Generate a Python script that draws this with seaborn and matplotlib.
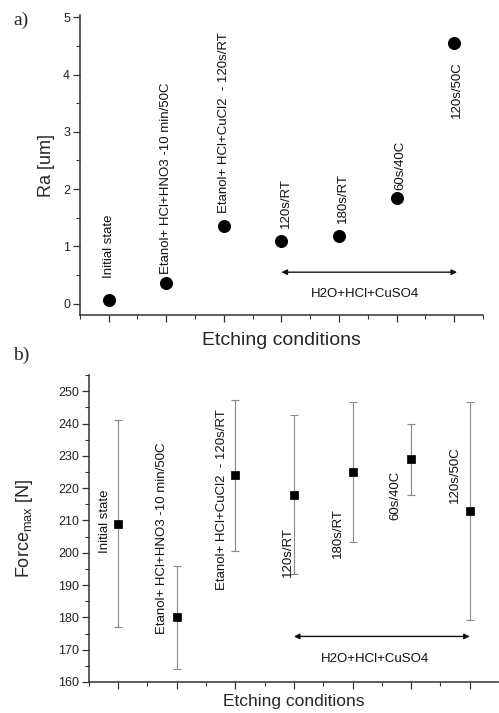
import matplotlib
matplotlib.use("Agg")
import matplotlib.pyplot as plt
from matplotlib.ticker import MultipleLocator, NullFormatter
import seaborn as sns
import pandas as pd
import numpy as np

# ---- data ----
conditions = ["Initial state", "Etanol+ HCl+HNO3 -10 min/50C",
              "Etanol+ HCl+CuCl2  - 120s/RT", "120s/RT", "180s/RT",
              "60s/40C", "120s/50C"]
ra_values = [0.07, 0.36, 1.36, 1.10, 1.18, 1.85, 4.55]
force_values = [209, 180, 224, 218, 225, 229, 213]
force_err = [32, 16, 23.4, 24.6, 21.8, 11, 33.8]
group_label = "H2O+HCl+CuSO4"

# label anchor (bottom of rotated text) in data units
ra_label_y = [0.45, 0.52, 1.58, 1.33, 1.40, 1.98, 3.25]
force_label_y = [200, 174.8, 188.5, 192.5, 198.5, 210, 215.5]
ra_label_dx = [0, 0, 0, 0.07, 0.07, 0.07, 0.05]
force_label_dx = [-0.23, -0.25, -0.23, -0.1, -0.25, -0.27, -0.25]

sns.set_theme(style="white")
plt.rcParams['font.family'] = ['Liberation Sans', 'DejaVu Sans']
plt.rcParams['mathtext.fontset'] = 'custom'
plt.rcParams['mathtext.rm'] = 'Liberation Sans'
plt.rcParams['mathtext.it'] = 'Liberation Sans:italic'

fig = plt.figure(figsize=(4.99, 7.13), dpi=100)
ax1 = fig.add_axes([0.160, 0.558, 0.808, 0.421])
ax2 = fig.add_axes([0.178, 0.0435, 0.822, 0.4305])

df = pd.DataFrame({"pos": np.arange(len(conditions)), "cond": conditions,
                   "ra": ra_values, "force": force_values, "err": force_err})

axis_col = "#333333"

def style(ax):
    for s in ["top", "right"]:
        ax.spines[s].set_visible(False)
    for s in ["left", "bottom"]:
        ax.spines[s].set_color(axis_col)
        ax.spines[s].set_linewidth(1.1)
    ax.tick_params(which="major", direction="out", length=5, width=0.9,
                   color=axis_col, labelsize=9, labelcolor="#222222",
                   left=True, bottom=True, pad=2)
    ax.tick_params(which="minor", direction="out", length=3, width=0.8,
                   color=axis_col, left=True, bottom=True)
    ax.set_xlim(-0.5, 6.5)
    ax.xaxis.set_major_locator(MultipleLocator(1))
    ax.xaxis.set_minor_locator(MultipleLocator(0.5))
    ax.xaxis.set_major_formatter(NullFormatter())

# ---- panel a ----
sns.scatterplot(data=df, x="pos", y="ra", ax=ax1, color="black", s=75,
                edgecolor="black", zorder=3, legend=False)
style(ax1)
ax1.set_ylim(-0.2, 5.04)
ax1.yaxis.set_major_locator(MultipleLocator(1))
ax1.yaxis.set_minor_locator(MultipleLocator(0.5))
ax1.set_xlabel("Etching conditions", fontsize=14, va="center")
ax1.xaxis.set_label_coords(0.5, -0.083)
ax1.set_ylabel("Ra [um]", fontsize=13, va="center")
ax1.yaxis.set_label_coords(-0.082, 0.5)
for i, (c, y) in enumerate(zip(conditions, ra_label_y)):
    ax1.text(i + ra_label_dx[i], y, c, rotation=90, ha="center", va="bottom",
             fontsize=9.5, color="#111111")
ax1.annotate("", xy=(6.05, 0.55), xytext=(3.0, 0.55),
             arrowprops=dict(arrowstyle="<|-|>", color="#111111", lw=1.0,
                             mutation_scale=8, shrinkA=0, shrinkB=0))
ax1.text(4.45, 0.17, group_label, ha="center", va="center", fontsize=9.5,
         color="#111111")

# ---- panel b ----
ax2.errorbar(df["pos"], df["force"], yerr=df["err"], fmt="none",
             ecolor="#888888", elinewidth=0.8, capsize=3, capthick=0.8,
             zorder=2)
sns.scatterplot(data=df, x="pos", y="force", ax=ax2, color="black", s=40,
                marker="s", edgecolor="black", zorder=3, legend=False)
style(ax2)
ax2.set_ylim(160, 255)
ax2.yaxis.set_major_locator(MultipleLocator(10))
ax2.yaxis.set_minor_locator(MultipleLocator(5))
ax2.set_xlabel("Etching conditions", fontsize=12.5, va="center")
ax2.xaxis.set_label_coords(0.5, -0.064)
ax2.set_ylabel("Force$_{\\mathrm{max}}$ [N]", fontsize=13, va="center")
ax2.yaxis.set_label_coords(-0.156, 0.5)
for i, (c, y) in enumerate(zip(conditions, force_label_y)):
    ax2.text(i + force_label_dx[i], y, c, rotation=90, ha="center",
             va="bottom", fontsize=9.5, color="#111111")
ax2.annotate("", xy=(6.0, 174.1), xytext=(3.0, 174.1),
             arrowprops=dict(arrowstyle="<|-|>", color="#111111", lw=1.0,
                             mutation_scale=8, shrinkA=0, shrinkB=0))
ax2.text(4.38, 167.2, group_label, ha="center", va="center", fontsize=9.5,
         color="#111111")

fig.text(0.026, 0.971, "a)", fontsize=14, va="center", family="Liberation Serif")
fig.text(0.026, 0.502, "b)", fontsize=14, va="center", family="Liberation Serif")

fig.savefig("out.png", dpi=100)
